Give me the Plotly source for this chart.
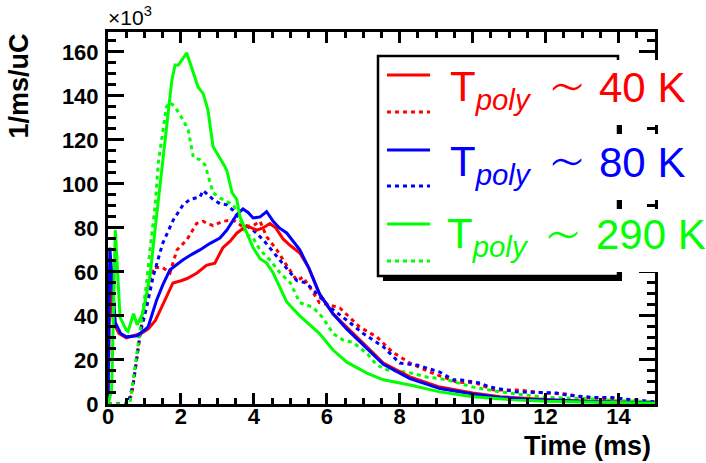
import plotly.graph_objects as go

# ---------------- data ----------------
t_40K_solid = [0.0, 0.05, 0.15, 0.3, 0.5, 0.7, 0.9, 1.1, 1.3, 1.5, 1.78, 2.0, 2.17, 2.44, 2.7, 2.93, 3.15,
               3.35, 3.53, 3.8, 4.08, 4.25, 4.44, 4.6, 4.8, 5.0, 5.26, 5.5, 5.8, 6.17, 6.55, 7.1, 7.55,
               8.28, 9.1, 10.0, 10.75, 11.5, 12.0, 13.0, 14.0, 15.0]
v_40K_solid = [0, 55, 37, 32, 30, 31, 32, 34, 38, 45, 55, 56, 57, 59.5, 63, 64, 71,
               74, 77.6, 81, 79, 80, 82, 80, 75, 72, 68.6, 62, 50, 41, 35, 26, 18.6,
               12.3, 7.7, 5, 3.3, 2.5, 2, 1.3, 1, 0.5]

t_80K_solid = [0.0, 0.05, 0.2, 0.35, 0.5, 0.8, 1.0, 1.1, 1.33, 1.5, 1.7, 2.06, 2.3, 2.52, 2.8, 3.07, 3.26,
               3.53, 3.7, 3.84, 3.98, 4.17, 4.35, 4.53, 4.7, 4.9, 5.26, 5.5, 5.8, 6.17, 6.55, 7.1, 7.55,
               8.28, 9.1, 10.0, 10.75, 11.5, 12.0, 13.0, 14.0, 15.0]
v_80K_solid = [0, 71, 37, 32, 30.5, 31, 33.6, 35, 47, 54, 61, 65.5, 68, 70, 73, 75.4, 79,
               86, 88.6, 87, 84.5, 85, 87.4, 83, 80, 77.7, 70, 62, 50, 41, 34, 25, 18,
               11.5, 7, 4.5, 3, 2.2, 1.8, 1.2, 0.8, 0.5]

t_290K_solid = [0.0, 0.1, 0.2, 0.33, 0.5, 0.55, 0.7, 0.8, 0.95, 1.15, 1.33, 1.47, 1.6, 1.75, 1.84, 1.93,
                2.16, 2.34, 2.47, 2.61, 2.74, 2.88, 3.07, 3.2, 3.26, 3.4, 3.53, 3.62, 3.8, 3.98, 4.17,
                4.35, 4.53, 4.9, 5.26, 5.8, 6.17, 6.55, 7.1, 7.55, 8.28, 9.1, 10.0, 11.0, 12.0, 13.0,
                14.0, 15.0]
v_290K_solid = [0, 6, 79, 39.5, 33.6, 33, 41, 36, 41, 58, 85, 106, 124.5, 147, 154, 154,
                159.5, 151, 144, 141, 133.6, 117, 112, 108, 106, 96, 93, 85, 78, 71, 66,
                64, 59.5, 46.4, 40, 32, 24.5, 19, 14, 11, 8.6, 5.5, 3.3, 2, 1.2, 0.8,
                0.5, 0.3]

t_40K_dotted = [0.0, 0.5, 0.65, 0.8, 0.95, 1.1, 1.24, 1.5, 1.7, 1.89, 2.16, 2.43, 2.61, 2.88, 3.15, 3.43,
                3.7, 3.98, 4.17, 4.35, 4.63, 4.9, 5.18, 5.35, 5.8, 6.08, 6.36, 6.9, 7.37, 7.8, 8.28,
                8.9, 9.57, 10.1, 10.57, 11.2, 12.0, 12.6, 13.0, 13.5, 14.0, 14.5, 15.0]
v_40K_dotted = [0, 0, 4, 22, 40, 52, 62, 62, 59.5, 70, 74.5, 82, 83, 81, 83, 83.6,
                80.5, 81, 83, 76, 70, 63, 56, 57.7, 46, 45, 43.6, 35, 30.5, 23.6, 18.6,
                14, 10, 9.5, 6.4, 6.4, 5, 4.5, 3, 2.5, 2.5, 1.5, 1]

t_80K_dotted = [0.0, 0.55, 0.7, 0.88, 1.06, 1.24, 1.5, 1.79, 2.06, 2.25, 2.52, 2.61, 2.88, 3.07, 3.26,
                3.43, 3.7, 3.98, 4.26, 4.63, 4.9, 5.18, 5.44, 5.8, 6.08, 6.63, 7.0, 7.55, 8.0, 8.47,
                9.1, 9.46, 9.65, 10.2, 10.47, 11.2, 12.3, 12.6, 13.3, 13.8, 14.3, 15.0]
v_80K_dotted = [0, 0, 10, 32, 44, 58, 73, 83.6, 90.5, 93, 94, 97, 93, 91, 90.5,
                88, 82, 79, 74.5, 67, 62, 56, 55, 48.6, 44, 37, 32, 26, 18.6, 17.7,
                14.5, 11, 11, 9.5, 7.7, 5.5, 5, 4, 3, 3, 2, 1]

t_290K_dotted = [0.0, 0.6, 0.65, 0.79, 0.92, 1.06, 1.15, 1.29, 1.38, 1.47, 1.6, 1.7, 1.84, 2.06, 2.2,
                 2.34, 2.52, 2.66, 2.88, 3.07, 3.26, 3.43, 3.62, 3.7, 3.8, 3.98, 4.17, 4.44, 4.72,
                 5.0, 5.26, 5.62, 5.9, 6.17, 6.45, 6.72, 7.1, 7.37, 7.65, 8.2, 8.74, 9.3, 10.0,
                 10.75, 12.0, 13.0, 14.0, 15.0]
v_290K_dotted = [0, 0, 6, 23, 39.5, 55, 70, 89.6, 109.5, 120, 135, 137, 135, 129, 124.5,
                 112, 111, 108.6, 96, 93.6, 92, 90.5, 85, 80, 77, 75.4, 70, 65.5, 59.5,
                 55, 46, 44, 39, 32, 29, 28, 23, 17.7, 15.5, 14.5, 12.3, 11, 7.7,
                 5.5, 3, 2.5, 1.5, 1]

x_tick_values = [0, 2, 4, 6, 8, 10, 12, 14]
y_tick_values = [0, 20, 40, 60, 80, 100, 120, 140, 160]
legend_labels = ["40 K", "80 K", "290 K"]
colors = ["#ff0000", "#0000ff", "#00ff00"]

# ---------------- figure ----------------
W, H = 706, 463
L, R, T, B = 108, 655, 32, 404   # plot-area pixel box


def px(xp):
    return (xp - L) / (R - L)


def py(yp):
    return (B - yp) / (B - T)


fig = go.Figure()
DOT = "4px,4px"
series = [
    (t_40K_dotted, v_40K_dotted, colors[0], DOT),
    (t_80K_dotted, v_80K_dotted, colors[1], DOT),
    (t_290K_dotted, v_290K_dotted, colors[2], DOT),
    (t_40K_solid, v_40K_solid, colors[0], "solid"),
    (t_80K_solid, v_80K_solid, colors[1], "solid"),
    (t_290K_solid, v_290K_solid, colors[2], "solid"),
]
for tx, vy, c, d in series:
    fig.add_trace(go.Scatter(x=tx, y=vy, mode="lines", line=dict(color=c, width=3, dash=d),
                             showlegend=False, hoverinfo="skip"))

FONT = "Liberation Sans, Arial, Helvetica, sans-serif"
axis_common = dict(showline=True, linecolor="black", linewidth=3, mirror="allticks",
                   ticks="inside", tickcolor="black", tickwidth=2.5, showgrid=False,
                   zeroline=False, automargin=False,
                   tickfont=dict(family=FONT, size=22, color="black", weight="bold"))
fig.update_xaxes(range=[0, 15], tickvals=x_tick_values, ticklen=11, ticklabelstandoff=-9,
                 minor=dict(dtick=0.5, ticklen=6, tickwidth=2.5, tickcolor="black", ticks="inside"),
                 **axis_common)
fig.update_yaxes(range=[0, 169], tickvals=y_tick_values, ticklen=16, ticklabelstandoff=2,
                 minor=dict(dtick=5, ticklen=8, tickwidth=2.5, tickcolor="black", ticks="inside"),
                 **axis_common)

shapes = []
# legend shadow + box
shapes.append(dict(type="rect", xref="paper", yref="paper", x0=px(383), x1=px(622), y0=py(281), y1=py(61),
                   fillcolor="black", line=dict(width=0), layer="above"))
shapes.append(dict(type="rect", xref="paper", yref="paper", x0=px(378), x1=px(618), y0=py(276), y1=py(56),
                   fillcolor="white", line=dict(color="black", width=2.5), layer="above"))
# white backgrounds behind the legend text lines (they hide the frame)
for y0, y1 in [(60, 125), (134, 200), (209, 272)]:
    shapes.append(dict(type="rect", xref="paper", yref="paper", x0=px(440), x1=px(706), y0=py(y1), y1=py(y0),
                       fillcolor="white", line=dict(width=0), layer="above"))
# legend line samples
solid_y = [75, 150, 224]
dot_y = [112, 186, 261]
for c, ys, yd in zip(colors, solid_y, dot_y):
    shapes.append(dict(type="line", xref="paper", yref="paper", x0=px(387), x1=px(430), y0=py(ys), y1=py(ys),
                       line=dict(color=c, width=3), layer="above"))
    shapes.append(dict(type="line", xref="paper", yref="paper", x0=px(387), x1=px(430), y0=py(yd), y1=py(yd),
                       line=dict(color=c, width=3, dash=DOT), layer="above"))
fig.update_layout(shapes=shapes)

ann = []
text_y = [89, 164, 237]
t_x = [448, 448, 445]
tilde_x = [567, 567, 563]
val_x = [597, 597, 594]
for c, lab, yy, tx, sx, vx in zip(colors, legend_labels, text_y, t_x, tilde_x, val_x):
    ann.append(dict(text="T<sub><i>poly</i></sub>", x=px(tx), y=py(yy), xref="paper", yref="paper",
                    xanchor="left", yanchor="middle", showarrow=False,
                    font=dict(family=FONT, size=42, color=c)))
    ann.append(dict(text="∼", x=px(sx), y=py(yy - 2), xref="paper", yref="paper",
                    xanchor="center", yanchor="middle", showarrow=False,
                    font=dict(family="DejaVu Sans ExtraLight, DejaVu Sans", size=60, color=c,
                              weight=200)))
    ann.append(dict(text=lab, x=px(vx), y=py(yy - 2), xref="paper", yref="paper",
                    xanchor="left", yanchor="middle", showarrow=False,
                    font=dict(family=FONT, size=42, color=c)))
# axis titles
ann.append(dict(text="<b>Time (ms)</b>", x=px(653), y=py(446), xref="paper", yref="paper",
                xanchor="right", yanchor="middle", showarrow=False,
                font=dict(family=FONT, size=27, color="black")))
ann.append(dict(text="<b>1/ms/uC</b>", x=px(18), y=py(32), xref="paper", yref="paper",
                xanchor="center", yanchor="top", textangle=-90, showarrow=False,
                font=dict(family=FONT, size=27, color="black")))
ann.append(dict(text="×10<sup>3</sup>", x=px(106), y=py(31), xref="paper", yref="paper",
                xanchor="left", yanchor="bottom", showarrow=False,
                font=dict(family=FONT, size=21, color="black")))
fig.update_layout(annotations=ann)

fig.update_layout(width=W, height=H, margin=dict(l=L, r=W - R, t=T, b=H - B, pad=0),
                  plot_bgcolor="white", paper_bgcolor="white", showlegend=False)

fig.write_html("out.html", config={"displayModeBar": False},
               post_script="document.body.style.margin='0px';")
